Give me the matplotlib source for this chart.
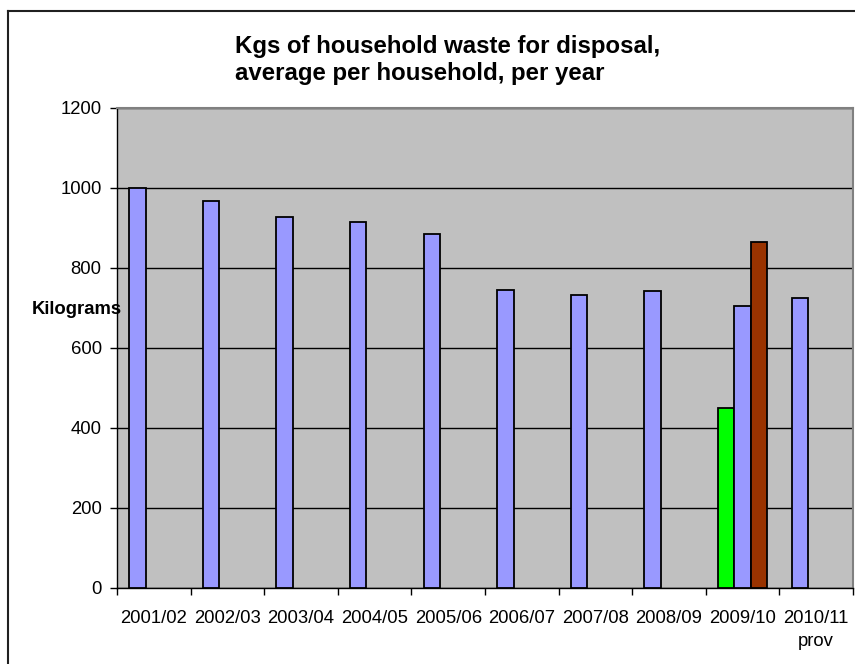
"""Kgs of household waste for disposal - Excel-style clustered bars."""

import numpy as np
import matplotlib

matplotlib.use("Agg")
import matplotlib.pyplot as plt
from matplotlib.lines import Line2D

plt.rcParams["font.family"] = ["Liberation Sans", "DejaVu Sans"]

years = ["2001/02", "2002/03", "2003/04", "2004/05", "2005/06",
         "2006/07", "2007/08", "2008/09", "2009/10", "2010/11\nprov"]
# first series; the 2009/10 point is drawn green in the source chart
kgs_main = [1000, 968, 928, 916, 884, 746, 733, 742, 450, 725]
main_colors = ["#9999FF"] * 8 + ["#00FF00", "#9999FF"]
# extra 2009/10 figures
kgs_second = [np.nan] * 8 + [704, np.nan]
kgs_third = [np.nan] * 8 + [866, np.nan]
y_ticks = [0, 200, 400, 600, 800, 1000, 1200]

W, H = 855, 664
fig = plt.figure(figsize=(W / 100, H / 100), dpi=100)
ax = fig.add_axes([117 / W, 1 - 588 / H, 736 / W, 480 / H])
ax.set_facecolor("#C0C0C0")

x = np.arange(len(years))
bw = 0.223
ax.bar(x - bw, kgs_main, bw, color=main_colors, edgecolor="black", linewidth=1.3, zorder=3)
ax.bar(x, kgs_second, bw, color="#9999FF", edgecolor="black", linewidth=1.3, zorder=3)
ax.bar(x + bw, kgs_third, bw, color="#993300", edgecolor="black", linewidth=1.3, zorder=3)

ax.set_xlim(-0.5, len(years) - 0.5)
ax.set_ylim(0, 1200)
ax.set_yticks(y_ticks)
ax.yaxis.grid(True, color="black", linewidth=1.0, zorder=1)
ax.set_axisbelow(True)

# category boundaries get tick marks, labels sit in the middle
ax.set_xticks(np.arange(-0.5, len(years), 1.0))
ax.set_xticklabels([])
ax.set_xticks(x, minor=True)
ax.set_xticklabels(years, minor=True, fontsize=13.3, linespacing=1.45)
ax.tick_params(axis="x", which="major", length=5, width=1, direction="out")
ax.tick_params(axis="x", which="minor", length=0, pad=16)
ax.tick_params(axis="y", length=5, width=1, pad=6, labelsize=13.3)

for side in ("top", "right"):
    ax.spines[side].set_color("#808080")
    ax.spines[side].set_linewidth(1.5)
for side in ("left", "bottom"):
    ax.spines[side].set_color("black")
    ax.spines[side].set_linewidth(1.0)

fig.text(77 / W, 1 - 310 / H, "Kilograms", fontsize=13.3, fontweight="bold",
         ha="center", va="center", zorder=5)

fig.text(448 / W, 1 - 60 / H,
         "Kgs of household waste for disposal,\naverage per household, per year",
         fontsize=17.3, fontweight="bold", ha="center", va="center",
         multialignment="left", linespacing=1.25)

# chart area border (right and bottom edges fall outside the picture)
x0, y0 = 7.5 / W, 1 - 10.5 / H
fig.add_artist(Line2D([x0, x0], [-0.1, y0], transform=fig.transFigure, color="#202020", lw=1.5))
fig.add_artist(Line2D([x0, 1.1], [y0, y0], transform=fig.transFigure, color="#202020", lw=1.5))

fig.savefig("out.png", dpi=100, facecolor="white")
